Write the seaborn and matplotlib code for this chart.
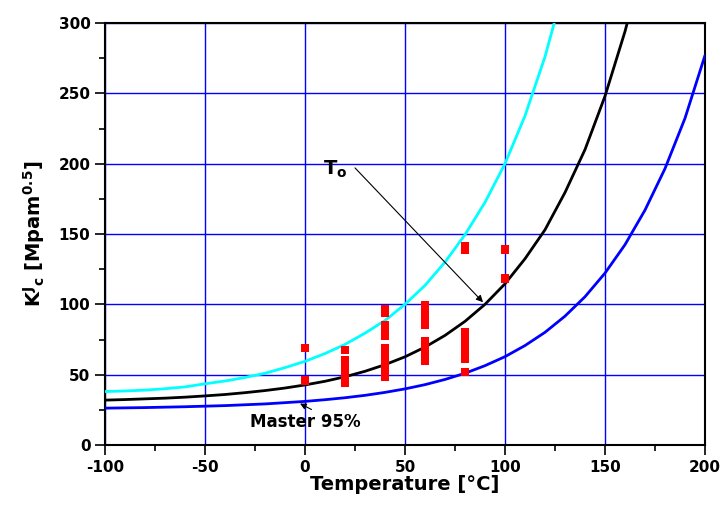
import matplotlib
matplotlib.use("Agg")
import matplotlib.pyplot as plt
import numpy as np
import pandas as pd
import seaborn as sns
from matplotlib.ticker import MultipleLocator

# curves (temperature in degC, K in MPa m^0.5)
temp_upper = [-100, -90, -80, -70, -60, -50, -40, -30, -20, -10, 0, 10, 20, 30, 40,
              50, 60, 70, 80, 90, 100, 110, 120, 125]
k_upper = [38, 38.4, 39, 40, 41.3, 43.5, 45.5, 48, 51, 55, 59.5, 65, 71.5, 79.5, 88.5,
           100, 113.5, 130, 149.5, 172.5, 200, 234, 276, 302]

temp_median = [-100, -90, -80, -70, -60, -50, -40, -30, -20, -10, 0, 10, 20, 30, 40,
               50, 60, 70, 80, 90, 100, 110, 120, 130, 140, 150, 160, 165]
k_median = [31.9, 32.3, 32.8, 33.3, 34, 34.9, 35.9, 37.2, 38.7, 40.5, 42.7, 45.3, 48.5,
            52.4, 57.1, 62.7, 69.6, 77.9, 87.9, 100, 114.6, 132.4, 153, 179.5, 210,
            248, 294, 321]

temp_lower = [-100, -80, -60, -40, -20, 0, 10, 20, 30, 40, 50, 60, 70, 80, 90, 100,
              110, 120, 130, 140, 150, 160, 170, 180, 190, 200]
k_lower = [26.2, 26.6, 27.2, 28, 29.2, 31, 32.2, 33.6, 35.3, 37.4, 39.9, 42.9, 46.6,
           51, 56.4, 62.8, 70.7, 80.1, 91.6, 105.4, 122.2, 142.4, 167, 196.5, 232.3, 277]

# measured toughness values
test_temp = [0, 0,
             20, 20, 20, 20, 20, 20, 20,
             40, 40, 40, 40, 40, 40, 40, 40, 40, 40, 40, 40, 40,
             60, 60, 60, 60, 60, 60, 60, 60, 60, 60,
             80, 80, 80, 80, 80, 80, 80, 80, 80, 80,
             100, 100]
test_k = [69, 46,
          67.5, 60, 57, 54, 51, 48, 44.5,
          96.5, 94, 85, 81, 77.5, 69, 66, 63, 60, 57, 54, 51, 48.5,
          99, 97.5, 92, 89, 85.5, 74, 70, 67, 63, 60,
          141, 139, 80, 77, 74, 71, 68, 64, 61, 52,
          139, 118.5]

curves = pd.concat([
    pd.DataFrame({"T": temp_upper, "K": k_upper, "curve": "upper"}),
    pd.DataFrame({"T": temp_median, "K": k_median, "curve": "median"}),
    pd.DataFrame({"T": temp_lower, "K": k_lower, "curve": "lower"}),
])
tests = pd.DataFrame({"T": test_temp, "K": test_k})

sns.set_style("ticks")
plt.rcParams["font.family"] = ["DejaVu Sans"]
plt.rcParams["font.weight"] = "bold"
plt.rcParams["text.color"] = "black"
plt.rcParams["axes.labelcolor"] = "black"
plt.rcParams["xtick.color"] = "black"
plt.rcParams["ytick.color"] = "black"
plt.rcParams["axes.unicode_minus"] = False
plt.rcParams["mathtext.fontset"] = "custom"
plt.rcParams["mathtext.rm"] = "DejaVu Sans:bold"
plt.rcParams["mathtext.it"] = "DejaVu Sans:bold"
plt.rcParams["mathtext.bf"] = "DejaVu Sans:bold"

fig = plt.figure(figsize=(7.2, 5.19), dpi=100)
ax = fig.add_axes([105 / 720, 74 / 519, 600 / 720, 422 / 519])

ax.grid(True, which="major", color="#0000ff", linewidth=1.0)
ax.set_axisbelow(True)

sns.lineplot(data=curves, x="T", y="K", hue="curve",
             palette={"upper": "#00ffff", "median": "black", "lower": "#0000ff"},
             linewidth=2, legend=False, sort=False, ax=ax, zorder=3)
sns.scatterplot(data=tests, x="T", y="K", marker="s", s=38, color="#ff0000",
                edgecolor="none", legend=False, ax=ax, zorder=4)

ax.text(15, 196, r"T$_{\mathrm{o}}$", fontsize=14, fontweight="bold",
        ha="center", va="center")
ax.annotate("", xy=(89, 101.5), xytext=(25, 197),
            arrowprops=dict(arrowstyle="-|>", color="black", lw=0.8,
                            shrinkA=0, shrinkB=0, mutation_scale=10))
ax.annotate("Master 95%", xy=(-2.5, 29.5), xytext=(0, 16.5),
            fontsize=12, fontweight="bold", ha="center", va="center",
            arrowprops=dict(arrowstyle="-|>", color="black", lw=0.8,
                            shrinkA=0, shrinkB=0, mutation_scale=9,
                            relpos=(0.6, 1.05)))

ax.set_xlim(-100, 200)
ax.set_ylim(0, 300)
ax.xaxis.set_major_locator(MultipleLocator(50))
ax.xaxis.set_minor_locator(MultipleLocator(25))
ax.yaxis.set_major_locator(MultipleLocator(50))
ax.yaxis.set_minor_locator(MultipleLocator(25))
ax.tick_params(which="major", direction="out", length=7, width=1.2, labelsize=11,
               color="black")
ax.tick_params(which="minor", direction="out", length=4, width=1.2, color="black")
for lab in ax.get_xticklabels() + ax.get_yticklabels():
    lab.set_fontweight("bold")
for sp in ax.spines.values():
    sp.set_color("black")
    sp.set_linewidth(1.5)

ax.set_xlabel("Temperature [°C]", fontsize=14, fontweight="bold", labelpad=0)
ax.set_ylabel(r"$\mathrm{K^{J}{}_{c}}$ [Mpam$^{0.5}$]", fontsize=14,
              fontweight="bold", labelpad=8)

fig.savefig("out.png", dpi=100)
